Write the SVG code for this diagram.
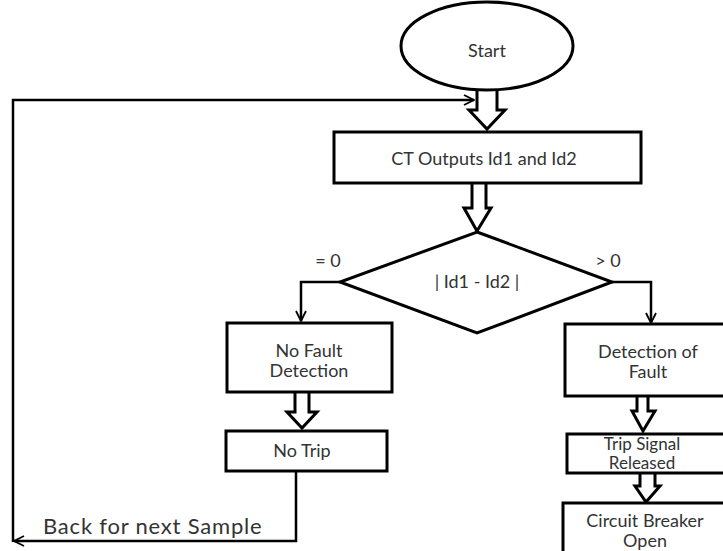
<svg xmlns="http://www.w3.org/2000/svg" width="723" height="551" viewBox="0 0 723 551">
<defs>
<style>
.shape{fill:#fff;stroke:#000;stroke-width:3}
.barrow{fill:#fff;stroke:#000;stroke-width:3;stroke-linejoin:miter}
.line{fill:none;stroke:#000;stroke-width:2.5}
.t{font-family:Lato,"Open Sans","Liberation Sans",sans-serif;font-size:18px;fill:#333;text-anchor:middle;dominant-baseline:central}
.sm{font-size:17px}
.big{font-size:22px;letter-spacing:0.8px;text-anchor:start}
</style>
<marker id="ah" viewBox="0 0 12 12" refX="11" refY="6" markerWidth="12" markerHeight="12" markerUnits="userSpaceOnUse" orient="auto">
<path d="M1,1 L11,6 L1,11" fill="none" stroke="#000" stroke-width="1.8"/>
</marker>
</defs>
<rect width="723" height="551" fill="#fff"/>

<g id="connectors">
<path class="barrow" d="M477,89 V110 H469 L487,129 L505,110 H497 V89"/>
<path class="barrow" d="M472,184 V208 H464 L477,231 L491,208 H486 V184"/>
<path class="line" d="M340,282 H301 V321" marker-end="url(#ah)"/>
<path class="line" d="M612,282 H651 V323" marker-end="url(#ah)"/>
<path class="barrow" d="M295,393 V412 H287 L302,428 L317,412 H309 V393"/>
<path class="barrow" d="M637,397 V411 H632 L643,431 L655,411 H648 V397"/>
<path class="barrow" d="M640,474 V486 H635 L646,502 L660,486 H655 V474"/>
<path class="line" d="M296,472 V541 H14" marker-end="url(#ah)"/>
<path class="line" d="M13,542 V100 H474" marker-end="url(#ah)"/>
</g>

<g id="start">
<ellipse class="shape" cx="487" cy="46" rx="86" ry="44"/>
<text class="t" x="487" y="50">Start</text>
</g>

<g id="ct-outputs">
<rect class="shape" x="334" y="132" width="307" height="51"/>
<text class="t" x="484" y="158">CT Outputs Id1 and Id2</text>
</g>

<g id="decision">
<polygon class="shape" points="477,232 612,282 477,333 340,282"/>
<text class="t" x="477" y="281">| Id1 - Id2 |</text>
<text class="t" x="328" y="260">= 0</text>
<text class="t" x="608" y="260">&gt; 0</text>
</g>

<g id="no-fault">
<rect class="shape" x="227" y="323" width="165" height="69"/>
<text class="t" x="309" y="350">No Fault</text>
<text class="t" x="309" y="370">Detection</text>
</g>

<g id="no-trip">
<rect class="shape" x="226" y="431" width="161" height="40"/>
<text class="t" x="302" y="450">No Trip</text>
</g>

<g id="detection">
<rect class="shape" x="565" y="324" width="170" height="72"/>
<text class="t" x="648" y="351">Detection of</text>
<text class="t" x="648" y="371">Fault</text>
</g>

<g id="trip-signal">
<rect class="shape" x="567" y="434" width="170" height="39"/>
<text class="t sm" x="642" y="443.5">Trip Signal</text>
<text class="t sm" x="642" y="462.5">Released</text>
</g>

<g id="breaker">
<rect class="shape" x="563" y="503" width="170" height="60"/>
<text class="t" x="645" y="519.5">Circuit Breaker</text>
<text class="t" x="645" y="539.5">Open</text>
</g>

<g id="back-label">
<text class="t big" x="43" y="525">Back for next Sample</text>
</g>
</svg>
